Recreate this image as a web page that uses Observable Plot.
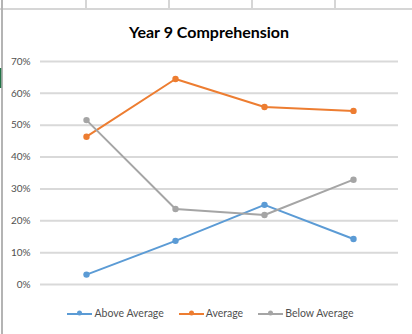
<!DOCTYPE html>
<html>
<head>
<meta charset="utf-8">
<script src="https://cdn.jsdelivr.net/npm/d3@7"></script>
<script src="https://cdn.jsdelivr.net/npm/@observablehq/plot@0.6"></script>
<style>
  html, body { margin: 0; padding: 0; background: #fff; overflow: hidden; }
  #sheet { position: relative; width: 412px; height: 334px; font-family: Lato, "Open Sans", sans-serif; }
  #sheet svg.grid { position: absolute; left: 0; top: 0; }
  #chart { position: absolute; left: 0; top: 0; }
  #title { position: absolute; left: 0; width: 418px; top: 22px; text-align: center;
           font: bold 16px Lato, sans-serif; color: #000; }
  #legend { position: absolute; left: 0; width: 421px; top: 307px; display: flex;
            justify-content: center; gap: 15px; font-size: 10.5px; color: #505050; }
  #legend .item { display: flex; align-items: center; gap: 2px; }
</style>
</head>
<body>
<div id="sheet">
  <svg class="grid" width="412" height="334">
    <line x1="0" y1="9" x2="412" y2="9" stroke="#d6d6d6" stroke-width="2"/>
    <line x1="86" y1="0" x2="86" y2="9" stroke="#d6d6d6" stroke-width="2"/>
    <line x1="169" y1="0" x2="169" y2="9" stroke="#d6d6d6" stroke-width="2"/>
    <line x1="252" y1="0" x2="252" y2="9" stroke="#d6d6d6" stroke-width="2"/>
    <line x1="335" y1="0" x2="335" y2="9" stroke="#d6d6d6" stroke-width="2"/>
    <line x1="2" y1="0" x2="2" y2="334" stroke="#b4b4b4" stroke-width="2"/>
    <line x1="0.5" y1="68" x2="0.5" y2="88" stroke="#217346" stroke-width="1.5"/>
  </svg>
  <div id="chart"></div>
  <div id="title">Year 9 Comprehension</div>
  <div id="legend"></div>
</div>
<script>
// Assessment points along the x axis (not labelled on the chart)
const points = ["Point 1", "Point 2", "Point 3", "Point 4"];
const seriesNames = ["Above Average", "Average", "Below Average"];
const seriesColors = ["#5b9bd5", "#ed7d31", "#a5a5a5"];

// Share of students in each band at each point
const aboveAverage = [0.031, 0.137, 0.250, 0.143];
const average = [0.464, 0.645, 0.557, 0.545];
const belowAverage = [0.516, 0.237, 0.218, 0.329];

const yTicks = [0, 0.1, 0.2, 0.3, 0.4, 0.5, 0.6, 0.7];

const rows = [];
[aboveAverage, average, belowAverage].forEach((vals, i) => {
  vals.forEach((v, j) => rows.push({series: seriesNames[i], point: points[j], value: v}));
});

const chart = Plot.plot({
  width: 412,
  height: 334,
  marginTop: 61,
  marginBottom: 50,
  marginLeft: 40,
  marginRight: 14,
  style: {fontFamily: "Lato, sans-serif", fontSize: "10px", background: "transparent"},
  x: {type: "point", domain: points, padding: 0.5, axis: null},
  y: {domain: [0, 0.7], axis: null},
  color: {domain: seriesNames, range: seriesColors},
  marks: [
    Plot.ruleY(yTicks, {stroke: "#d9d9d9", strokeWidth: 2}),
    Plot.axisY(yTicks, {tickSize: 0, tickPadding: 10, tickFormat: d3.format(".0%"),
                        fill: "#505050", label: null}),
    Plot.line(rows, {x: "point", y: "value", z: "series", stroke: "series", strokeWidth: 2}),
    Plot.dot(rows, {x: "point", y: "value", fill: "series", r: 3.2})
  ]
});
document.getElementById("chart").appendChild(chart);

// Legend
const legend = document.getElementById("legend");
seriesNames.forEach((name, i) => {
  const item = document.createElement("div");
  item.className = "item";
  item.innerHTML =
    `<svg width="25" height="8"><line x1="0" y1="5" x2="25" y2="5" stroke="${seriesColors[i]}" stroke-width="2"/>` +
    `<circle cx="12.5" cy="4" r="2.5" fill="${seriesColors[i]}"/></svg><span>${name}</span>`;
  legend.appendChild(item);
});
</script>
</body>
</html>
